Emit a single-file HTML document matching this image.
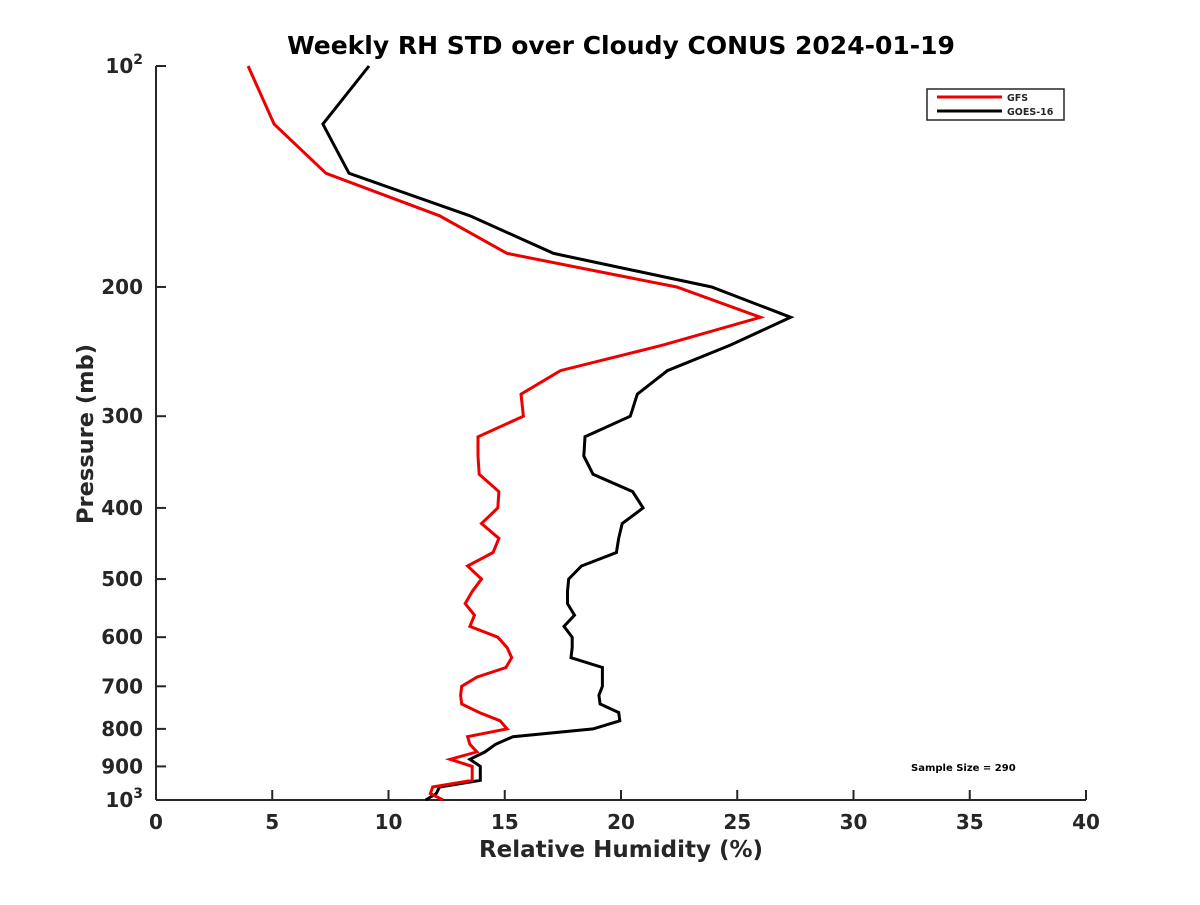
<!DOCTYPE html>
<html><head><meta charset="utf-8"><style>
body{margin:0;background:#fff;}
svg text{font-family:"DejaVu Sans","Liberation Sans",sans-serif;font-weight:bold;fill:#262626;}
</style></head><body>
<svg id="chart" width="1200" height="900" xmlns="http://www.w3.org/2000/svg">
<rect width="1200" height="900" fill="#fff"/>
<text x="621" y="54" font-size="25" text-anchor="middle" style="fill:#000">Weekly RH STD over Cloudy CONUS 2024-01-19</text>
<g id="axes"></g>
<g id="series"></g>
<g>
<rect x="927" y="89" width="137" height="31" fill="#fff" stroke="#262626" stroke-width="1.5"/>
<line x1="937" y1="97" x2="1002" y2="97" stroke="#e00" stroke-width="3"/>
<text x="1007" y="101" font-size="9.5">GFS</text>
<line x1="937" y1="111" x2="1002" y2="111" stroke="#000" stroke-width="3"/>
<text x="1007" y="115" font-size="9.5">GOES-16</text>
</g>
<text x="911" y="771" font-size="10" style="fill:#000">Sample Size = 290</text>
<text x="621" y="857" font-size="23" text-anchor="middle">Relative Humidity (%)</text>
<text transform="translate(93,434) rotate(-90)" font-size="22.5" text-anchor="middle">Pressure (mb)</text>
</svg>
<script>
const pressures = [100,120,140,160,180,200,220,240,260,280,300,320,340,360,380,400,420,440,460,480,500,520,540,560,580,600,620,640,660,680,700,720,740,760,780,800,820,840,860,880,900,920,940,960,980,1000];
const gfsValues = [3.96,5.08,7.31,12.2,15.1,22.4,26.0,21.8,17.4,15.7,15.8,13.85,13.85,13.9,14.75,14.7,14.0,14.75,14.5,13.4,14.0,13.6,13.3,13.7,13.5,14.7,15.1,15.3,15.05,13.8,13.15,13.1,13.15,13.9,14.8,15.1,13.4,13.5,13.8,12.65,13.6,13.6,13.6,11.9,11.8,12.35];
const goesValues = [9.16,7.18,8.3,13.5,17.1,23.9,27.3,24.7,22.0,20.7,20.4,18.45,18.4,18.8,20.5,20.95,20.05,19.9,19.8,18.3,17.75,17.7,17.7,18.0,17.55,17.9,17.9,17.85,19.2,19.2,19.2,19.05,19.1,19.9,19.95,18.8,15.35,14.6,14.15,13.5,13.95,13.95,13.95,12.2,12.05,11.6];
const xTicks = [0,5,10,15,20,25,30,35,40];
const yTicks = [100,200,300,400,500,600,700,800,900,1000];
const yTickLabels = ["10²","200","300","400","500","600","700","800","900","10³"];

const X0=156,X1=1086,Y0=66,Y1=800;
function xs(v){return X0+(v-0)/(40-0)*(X1-X0);}
function ys(p){return Y0+Math.log10(p/100)*(Y1-Y0);}
const NS="http://www.w3.org/2000/svg";
const axes=document.getElementById('axes'), series=document.getElementById('series');
function mk(tag,attrs,parent){const e=document.createElementNS(NS,tag);for(const k in attrs)e.setAttribute(k,attrs[k]);parent.appendChild(e);return e;}

const ax=mk('line',{x1:X0,y1:Y1,x2:X1,y2:Y1,stroke:'#262626','stroke-width':2},axes);


const ay=mk('line',{x1:X0,y1:Y0,x2:X0,y2:Y1,stroke:'#262626','stroke-width':2},axes);



xTicks.forEach(t=>{
  const x=xs(t);
  const l=mk('line',{x1:x,y1:Y1,x2:x,y2:Y1-10,stroke:'#262626','stroke-width':2},axes);
  
  
  const tx=mk('text',{x:x,y:829,'font-size':20,'text-anchor':'middle'},axes);
  
  
  tx.textContent=t;
});
yTicks.forEach((p,i)=>{
  const y=ys(p);
  const l=mk('line',{x1:X0,y1:y,x2:X0+10,y2:y,stroke:'#262626','stroke-width':2},axes);
  
  
  const lab=yTickLabels[i];
  const tx=mk('text',{x:143,y:y+7,'font-size':20,'text-anchor':'end'},axes);
  
  
  if(lab.length===3&&(lab[2]==='²'||lab[2]==='³')){
    tx.textContent='10';
    const s=mk('tspan',{'font-size':14,dy:-9},tx);
    s.textContent=lab[2]==='²'?'2':'3';
  } else tx.textContent=lab;
});

function drawLine(vals,color,name){
  const pts=vals.map((v,i)=>xs(v).toFixed(1)+','+ys(pressures[i]).toFixed(1)).join(' ');
  const pl=mk('polyline',{points:pts,fill:'none',stroke:color,'stroke-width':3,'stroke-linejoin':'miter'},series);
  
  
}
drawLine(goesValues,'#000','goes16-line');
drawLine(gfsValues,'#e00','gfs-line');
</script>
</body></html>
